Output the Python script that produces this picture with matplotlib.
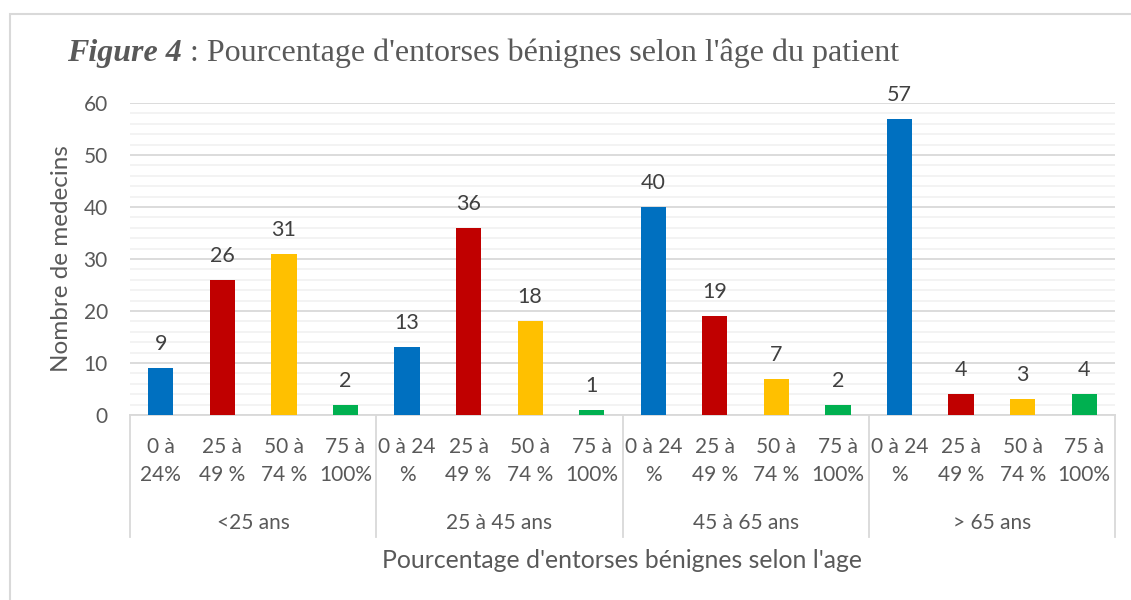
import matplotlib
matplotlib.use("Agg")
import matplotlib.pyplot as plt
from matplotlib.patches import Rectangle
import matplotlib.transforms as mtransforms

groups = ["<25 ans", "25 à 45 ans", "45 à 65 ans", "> 65 ans"]
subcats = [
    ["0 à\n24%", "25 à\n49 %", "50 à\n74 %", "75 à\n100%"],
    ["0 à 24\n%", "25 à\n49 %", "50 à\n74 %", "75 à\n100%"],
    ["0 à 24\n%", "25 à\n49 %", "50 à\n74 %", "75 à\n100%"],
    ["0 à 24\n%", "25 à\n49 %", "50 à\n74 %", "75 à\n100%"],
]
values = [
    [9, 26, 31, 2],
    [13, 36, 18, 1],
    [40, 19, 7, 2],
    [57, 4, 3, 4],
]
colors = ["#0070C0", "#C00000", "#FFC000", "#00B050"]

W, H = 1131, 600
fig = plt.figure(figsize=(W / 100, H / 100), dpi=100)
fig.patch.set_facecolor("white")

txt = "#595959"
font = "Lato"
fs = 15

# outer border
fig.patches.append(Rectangle((9.5 / W, -0.05), 1.1, 1 - 14 / H + 0.05,
                             transform=fig.transFigure, fill=False,
                             edgecolor="#d9d9d9", linewidth=1.5))

left, right, top, bottom = 130, 1115, 103, 415
ax = fig.add_axes([left / W, 1 - bottom / H, (right - left) / W, (bottom - top) / H])

x = 0
for g in range(4):
    for k in range(4):
        ax.bar(x, values[g][k], width=0.41, color=colors[k], zorder=3)
        ax.text(x, values[g][k] + 2.7, str(values[g][k]), ha="center", va="bottom",
                fontsize=15.5, color="#404040", family=font)
        x += 1

ax.set_xlim(-0.5, 15.5)
ax.set_ylim(0, 60)
ax.set_yticks(range(0, 61, 10))
ax.set_yticks(range(0, 61, 2), minor=True)
ax.grid(axis="y", which="major", color="#d9d9d9", linewidth=1.3, zorder=0)
ax.grid(axis="y", which="minor", color="#f2f2f2", linewidth=1.3, zorder=0)
ax.tick_params(axis="y", which="both", length=0, labelsize=fs, labelcolor=txt, pad=16)
for lab in ax.get_yticklabels():
    lab.set_family(font)
ax.set_xticks([])
for s in ["top", "right", "left"]:
    ax.spines[s].set_visible(False)
ax.spines["bottom"].set_color("#d9d9d9")
ax.spines["bottom"].set_linewidth(1.3)
ax.set_facecolor("none")

trans = mtransforms.blended_transform_factory(ax.transData, ax.transAxes)
px = 1 / (bottom - top)  # axes fraction per pixel

# category labels
for g in range(4):
    for k in range(4):
        ax.text(g * 4 + k, -(461 - bottom) * px, subcats[g][k], transform=trans,
                ha="center", va="center", fontsize=fs, color=txt, family=font,
                linespacing=1.55)
    ax.text(g * 4 + 1.5, -(523 - bottom) * px, groups[g], transform=trans,
            ha="center", va="center", fontsize=fs, color=txt, family=font)

# group separators
for b in [-0.5, 3.5, 7.5, 11.5, 15.5]:
    ax.plot([b, b], [0, -(537 - bottom) * px], transform=trans, color="#d9d9d9",
            linewidth=1.3, clip_on=False)

fig.text(62 / W, 1 - 259 / H, "Nombre de medecins", rotation=90, fontsize=17.5,
         color=txt, family=font, ha="center", va="center")
fig.text(622 / W, 1 - 561 / H, "Pourcentage d'entorses bénignes selon l'age",
         ha="center", va="center", fontsize=17.8, color=txt, family=font)

# title
ty = 1 - 53 / H
t1 = fig.text(67 / W, ty, "Figure 4", fontsize=23, color=txt,
              family="Liberation Serif", fontweight="bold", style="italic",
              ha="left", va="center")
fig.canvas.draw()
bb = t1.get_window_extent()
fig.text(bb.x1 / W, ty, " : Pourcentage d'entorses bénignes selon l'âge du patient",
         fontsize=23, color=txt, family="Liberation Serif", ha="left", va="center")

fig.savefig("out.png", dpi=100, facecolor="white")
